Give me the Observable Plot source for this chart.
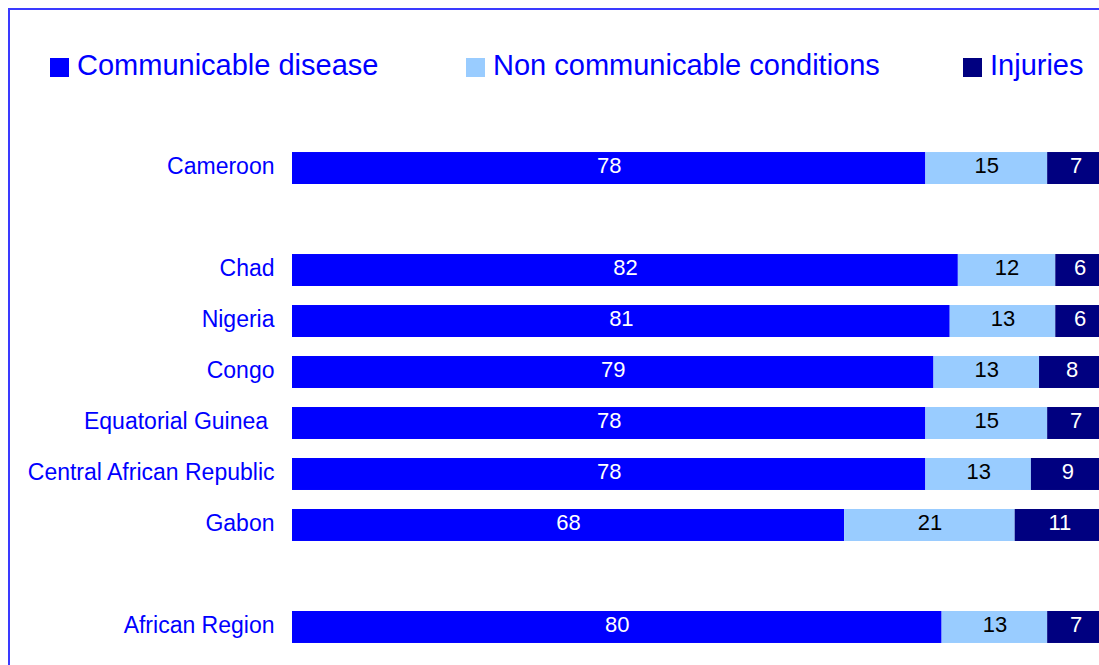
<!DOCTYPE html>
<html>
<head>
<meta charset="utf-8">
<script src="https://cdn.jsdelivr.net/npm/d3@7"></script>
<script src="https://cdn.jsdelivr.net/npm/@observablehq/plot@0.6"></script>
<style>
  html, body { margin: 0; padding: 0; background: #fff; }
  #wrap { position: relative; width: 1099px; height: 665px; overflow: hidden; font-family: "Liberation Sans", Arial, sans-serif; }
  #frame { position: absolute; left: 8px; top: 8px; width: 1200px; height: 800px; border: 2px solid #3a3aff; box-sizing: border-box; }
  #legend { position: relative; height: 110px; }
  .sw { position: absolute; width: 19px; height: 19px; top: 58px; }
  .lt { position: absolute; top: 51px; font-size: 29px; line-height: 29px; color: #0000ff; white-space: nowrap; }
  #chart { position: relative; }
  #chart svg { display: block; overflow: visible; }
</style>
</head>
<body>
<div id="wrap">
  <div id="frame"></div>
  <div id="legend"></div>
  <div id="chart"></div>
</div>
<script>
// Data
const countries = ["Cameroon", "Chad", "Nigeria", "Congo", "Equatorial Guinea", "Central African Republic", "Gabon", "African Region"];
const rowOrder = ["Cameroon", " ", "Chad", "Nigeria", "Congo", "Equatorial Guinea", "Central African Republic", "Gabon", "  ", "African Region"];
const communicable = [78, 82, 81, 79, 78, 78, 68, 80];
const nonCommunicable = [15, 12, 13, 13, 15, 13, 21, 13];
const injuries = [7, 6, 6, 8, 7, 9, 11, 7];
const seriesNames = ["Communicable disease", "Non communicable conditions", "Injuries"];
const seriesColors = ["#0000ff", "#99ccff", "#000080"];
const legendLeft = [50, 466, 963];

const seriesValues = [communicable, nonCommunicable, injuries];
const data = [];
countries.forEach((c, i) => {
  seriesNames.forEach((s, j) => {
    data.push({country: c, series: s, value: seriesValues[j][i]});
  });
});

// Legend
const legend = document.getElementById("legend");
seriesNames.forEach((s, j) => {
  const sw = document.createElement("div");
  sw.className = "sw";
  sw.style.left = legendLeft[j] + "px";
  sw.style.background = seriesColors[j];
  legend.appendChild(sw);
  const t = document.createElement("div");
  t.className = "lt";
  t.style.left = (legendLeft[j] + 27) + "px";
  t.textContent = s;
  legend.appendChild(t);
});

const stackOpts = {x: "value", y: "country", z: "series", order: seriesNames};
const darkText = "Non communicable conditions";

const chart = Plot.plot({
  width: 1099,
  height: 555,
  marginLeft: 292,
  marginRight: -5,
  marginTop: 23,
  marginBottom: 3,
  style: {fontFamily: "'Liberation Sans', Arial, sans-serif", background: "transparent"},
  x: {domain: [0, 100], axis: null},
  y: {domain: rowOrder, padding: 0.373, round: false, label: null},
  color: {domain: seriesNames, range: seriesColors},
  marks: [
    Plot.axisY({
      tickSize: 0,
      tickPadding: 18,
      fontSize: 23,
      fill: "#0000ff",
      dy: -2,
      label: null,
      tickFormat: d => d === "Equatorial Guinea" ? d + "\u00a0" : d
    }),
    Plot.barX(data, Plot.stackX({...stackOpts, fill: "series"})),
    Plot.text(data,
      Plot.stackX({...stackOpts, text: d => d.series !== darkText ? String(d.value) : "", fill: "white", fontSize: 22, dy: -3})),
    Plot.text(data,
      Plot.stackX({...stackOpts, text: d => d.series === darkText ? String(d.value) : "", fill: "black", fontSize: 22, dy: -3}))
  ]
});
document.getElementById("chart").appendChild(chart);
</script>
</body>
</html>
